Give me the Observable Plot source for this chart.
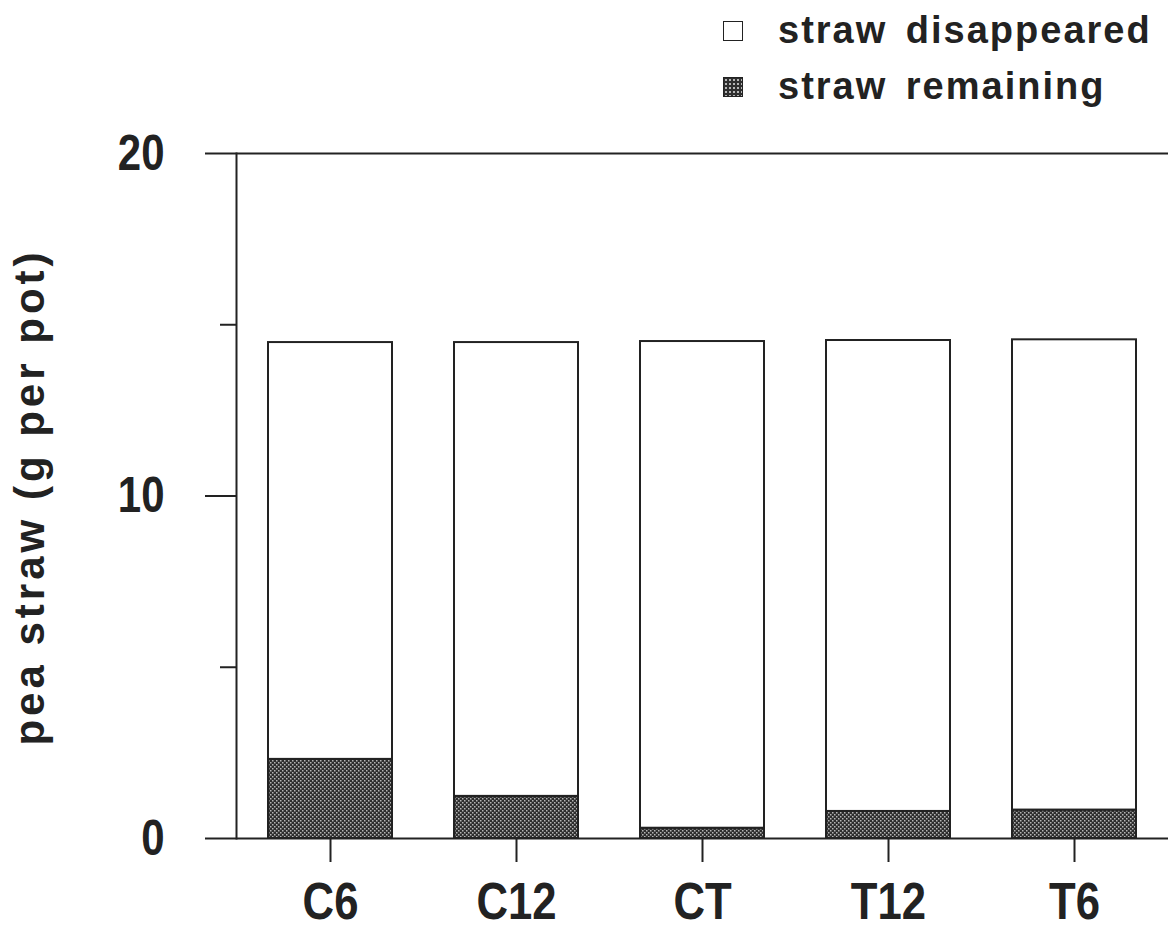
<!DOCTYPE html>
<html>
<head>
<meta charset="utf-8">
<script src="https://cdn.jsdelivr.net/npm/d3@7"></script>
<script src="https://cdn.jsdelivr.net/npm/@observablehq/plot@0.6"></script>
<style>
  html, body { margin: 0; padding: 0; background: white; }
  #wrap { position: relative; width: 1168px; height: 934px; overflow: hidden; }
  #chart svg { position: absolute; left: 0; top: 0; }
  .leg { position: absolute; font-family: "Liberation Sans", Arial, sans-serif; font-weight: bold; font-size: 38px; line-height: 38px; letter-spacing: 2px; color: #222; white-space: nowrap; word-spacing: 6px; }
  .sw { position: absolute; width: 20px; height: 20px; box-sizing: border-box; border: 1.5px solid #222; }
  #ytitle { position: absolute; left: 30px; top: 497px; transform: translate(-50%, -50%) rotate(-90deg); font-family: "Liberation Sans", Arial, sans-serif; font-weight: bold; font-size: 42px; letter-spacing: 4px; color: #222; white-space: nowrap; }
</style>
</head>
<body>
<div id="wrap">
  <div id="chart"></div>
  <div id="ytitle"></div>
  <div id="legend"></div>
</div>
<script>
const categories = ["C6", "C12", "CT", "T12", "T6"];
const totalStraw = [14.48, 14.48, 14.51, 14.54, 14.56];
const remainingStraw = [2.31, 1.23, 0.30, 0.79, 0.83];
const seriesNames = ["straw disappeared", "straw remaining"];
const yTicksMajor = [0, 10, 20];
const yTicksMinor = [5, 15];
const yTitle = "pea straw (g per pot)";

const rows = categories.map((c, i) => ({cat: c, rem: remainingStraw[i], total: totalStraw[i]}));

const svg = Plot.plot({
  width: 1168,
  height: 934,
  marginTop: 153,
  marginBottom: 96,
  marginLeft: 236,
  marginRight: 0,
  x: {domain: categories, paddingInner: 0.335, paddingOuter: 0.1675, label: null},
  y: {domain: [0, 20], label: null},
  style: {fontFamily: "'Liberation Sans Narrow', 'Liberation Sans', Arial, sans-serif", color: "#222", background: "white", overflow: "visible"},
  marks: [
    Plot.barY(rows, {x: "cat", y1: 0, y2: "rem", fill: "url(#dots)", stroke: "#222", strokeWidth: 2}),
    Plot.barY(rows, {x: "cat", y1: "rem", y2: "total", fill: "white", stroke: "#222", strokeWidth: 2}),
    Plot.ruleY([0, 20], {stroke: "#222", strokeWidth: 2}),
    Plot.frame({anchor: "left", stroke: "#222", strokeWidth: 2}),
    Plot.axisY({ticks: yTicksMajor, tickSize: 31, tickPadding: 41, fontSize: 50, fontWeight: "bold", tickFormat: d => String(d), strokeWidth: 2, label: null}),
    Plot.axisY({ticks: yTicksMinor, tickSize: 16, tickFormat: () => "", strokeWidth: 2, label: null}),
    Plot.axisX({tickSize: 24, tickPadding: 20, fontSize: 52, fontWeight: "bold", strokeWidth: 2, label: null})
  ]
});

d3.select(svg).insert("defs", ":first-child").html(
  '<pattern id="dots" width="4" height="4" patternUnits="userSpaceOnUse">' +
  '<rect width="4" height="4" fill="#2e2e2e"/>' +
  '<rect x="0" y="0" width="1.5" height="1.5" fill="#b5b5b5"/>' +
  '<rect x="2" y="2" width="1.5" height="1.5" fill="#b5b5b5"/>' +
  '</pattern>'
);

// narrow the tick labels to mimic a condensed face (scale about each label's anchor)
d3.select(svg).selectAll('g[aria-label="y-axis tick label"] text, g[aria-label="x-axis tick label"] text').each(function() {
  const tr = this.getAttribute("transform");
  if (tr) this.setAttribute("transform", `${tr} scale(0.84,1)`);
});

document.getElementById("chart").appendChild(svg);

document.getElementById("ytitle").textContent = yTitle;

const legend = document.getElementById("legend");
const swatchStyles = [
  "background:white;",
  "background-color:#2e2e2e;background-image:radial-gradient(#b5b5b5 0.8px, transparent 1px);background-size:4px 4px;"
];
seriesNames.forEach((name, i) => {
  const sw = document.createElement("div");
  sw.className = "sw";
  sw.style.cssText = `left:723px;top:${21 + i * 56}px;` + swatchStyles[i];
  legend.appendChild(sw);
  const t = document.createElement("div");
  t.className = "leg";
  t.style.left = "778px";
  t.style.top = `${11 + i * 56}px`;
  t.textContent = name;
  legend.appendChild(t);
});
</script>
</body>
</html>
